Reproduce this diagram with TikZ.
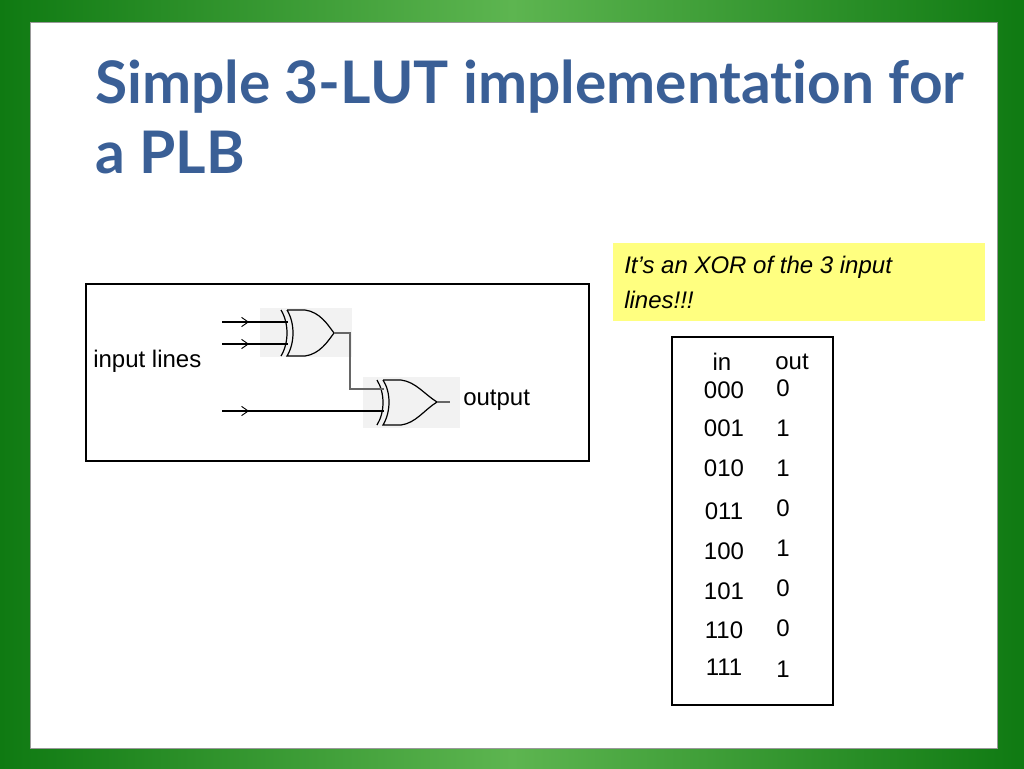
\documentclass[tikz,border=0pt]{standalone}
\usepackage{fontspec}
\setmainfont{Liberation Sans}
\newfontfamily\titlefont[Ligatures={NoCommon,NoRare}]{Lato}
\usetikzlibrary{arrows.meta}
\definecolor{gdark}{HTML}{0F7A12}
\definecolor{glight}{HTML}{5DB550}
\definecolor{titleblue}{HTML}{3A5F96}
\definecolor{note}{HTML}{FFFF80}
\begin{document}
\begin{tikzpicture}[x=0.75pt,y=-0.75pt,
  txt/.style={font=\fontsize{18}{21}\selectfont,inner sep=0pt},
  wire/.style={line width=0.9pt},
  arr/.style={-{Straight Barb[length=5pt,width=7pt]},line width=0.7pt},
  gatebg/.style={fill=black!5,draw=none}]
\useasboundingbox (0,0) rectangle (1024,768);
\shade[left color=gdark,right color=glight] (0,0) rectangle (512,768);
\shade[left color=glight,right color=gdark] (512,0) rectangle (1024,768);
\fill[white] (30,22) rectangle (997,748);
\draw[black!40] (30,22) rectangle (997,748);
\node[anchor=north west,align=left,text=titleblue,inner sep=0pt,font=\titlefont\bfseries\fontsize{44}{52}\selectfont] (title) at (95,60) {Simple 3-LUT implementation for\\a PLB};
% circuit box
\draw[line width=0.8pt] (86,284) rectangle (589,461);
\fill[gatebg] (260,308) rectangle (352,357);
\fill[gatebg] (363,377) rectangle (460,428);
\node[txt,anchor=west] (inl) at (93,361) {input lines};
\node[txt,anchor=west] (outl) at (463,400) {output};
% gate 1
\draw[wire,fill=black!5] (287,310) -- (305,310) .. controls (320,312) and (328,325) .. (334,333) .. controls (328,341) and (320,354) .. (305,356) -- (287,356) .. controls (295,343) and (295,323) .. (287,310);
\draw[wire] (281,310) .. controls (289,323) and (289,343) .. (281,356);
% gate 2
\draw[wire,fill=black!5] (383,380) -- (401,380) .. controls (416,382) and (424,394) .. (437,402) .. controls (424,410) and (416,423) .. (401,425) -- (383,425) .. controls (391,412) and (391,392) .. (383,380);
\draw[wire] (377,380) .. controls (385,393) and (385,412) .. (377,425);
\coordinate (i1) at (222,322); \coordinate (i2) at (222,344); \coordinate (i3) at (222,411);
\draw[wire] (i1) -- (288,322); \draw[wire] (i2) -- (288,344); \draw[wire] (i3) -- (384,411);
\draw[arr] (i1) -- (249,322); \draw[arr] (i2) -- (249,344); \draw[arr] (i3) -- (249,411);
\draw[wire,black!60] (334,333) -- (350,333) -- (350,389) -- (384,389);
\draw[wire,black!60] (437,402) -- (450,402);
% note
\fill[note] (613,243) rectangle (985,321);
\node[txt,anchor=north west,align=left,font=\itshape\fontsize{18}{26}\selectfont] (note) at (624,256) {It’s an XOR of the 3 input\\lines!!!};
% table
\draw[line width=0.8pt] (672,337) rectangle (833,705);
\node[txt] (hin) at (722,362) {in};
\node[txt] (hout) at (792,362) {out};
\foreach \a/\b/\ya/\yb in {000/0/390/388,001/1/428/428,010/1/468/468,011/0/511/508,100/1/551/548,101/0/591/588,110/0/630/628,111/1/667/669}{
  \node[txt] at (724,\ya) {\a};
  \node[txt] at (783,\yb) {\b};
}
\end{tikzpicture}
\end{document}
